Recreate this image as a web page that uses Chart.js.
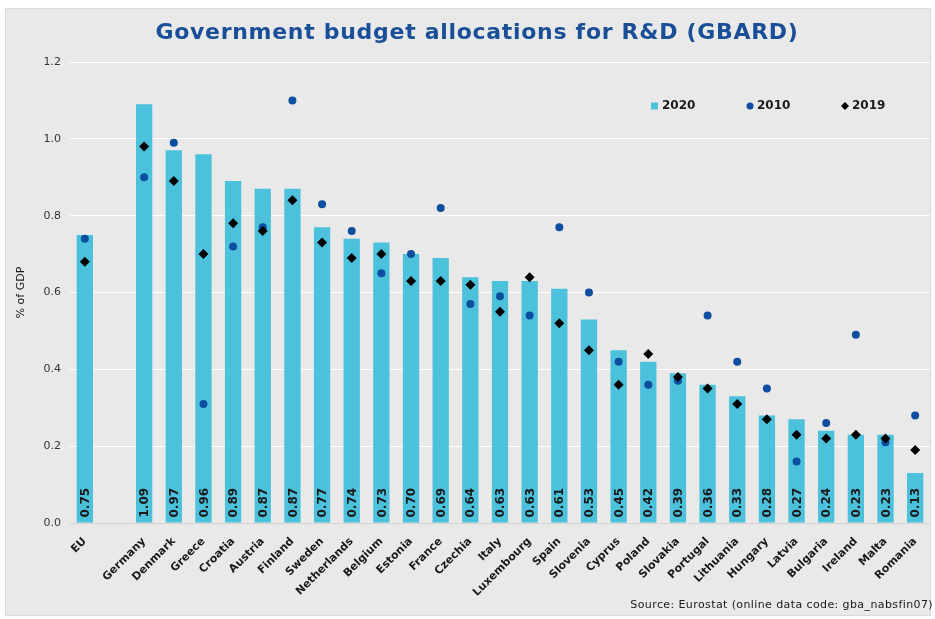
<!DOCTYPE html>
<html>
<head>
<meta charset="utf-8">
<title>GBARD</title>
<script src="https://cdn.jsdelivr.net/npm/chart.js@4.4.1/dist/chart.umd.min.js"></script>
<style>
  html, body { margin: 0; padding: 0; background: #ffffff; }
  #wrap { position: relative; width: 935px; height: 619px; }
  #panel { position: absolute; left: 5px; top: 8px; width: 926px; height: 608px;
           background: #e9e9e9; border: 1px solid #dadada; box-sizing: border-box; }
  #chart { position: absolute; left: 0; top: 0; }
</style>
</head>
<body>
<div id="wrap">
  <div id="panel"></div>
  <canvas id="chart" width="935" height="619"></canvas>
</div>
<script>
// categories (second slot is the gap after EU)
const countries = ["EU", "", "Germany", "Denmark", "Greece", "Croatia", "Austria", "Finland",
  "Sweden", "Netherlands", "Belgium", "Estonia", "France", "Czechia", "Italy", "Luxembourg",
  "Spain", "Slovenia", "Cyprus", "Poland", "Slovakia", "Portugal", "Lithuania", "Hungary",
  "Latvia", "Bulgaria", "Ireland", "Malta", "Romania"];

// % of GDP
const gbard2020 = [0.75, null, 1.09, 0.97, 0.96, 0.89, 0.87, 0.87, 0.77, 0.74, 0.73, 0.70, 0.69,
  0.64, 0.63, 0.63, 0.61, 0.53, 0.45, 0.42, 0.39, 0.36, 0.33, 0.28, 0.27, 0.24, 0.23, 0.23, 0.13];
const gbard2010 = [0.74, null, 0.90, 0.99, 0.31, 0.72, 0.77, 1.10, 0.83, 0.76, 0.65, 0.70, 0.82,
  0.57, 0.59, 0.54, 0.77, 0.60, 0.42, 0.36, 0.37, 0.54, 0.42, 0.35, 0.16, 0.26, 0.49, 0.21, 0.28];
const gbard2019 = [0.68, null, 0.98, 0.89, 0.70, 0.78, 0.76, 0.84, 0.73, 0.69, 0.70, 0.63, 0.63,
  0.62, 0.55, 0.64, 0.52, 0.45, 0.36, 0.44, 0.38, 0.35, 0.31, 0.27, 0.23, 0.22, 0.23, 0.22, 0.19];

const yTicks = [0, 0.2, 0.4, 0.6, 0.8, 1.0, 1.2];

const FONT = "'DejaVu Sans', Verdana, sans-serif";
const barColor = "#4bc1dc";
const dotColor = "#0c4e9f";
const diamondColor = "#000000";

// title, legend, value labels and source line
const decorations = {
  id: "decorations",
  afterDatasetsDraw(chart) {
    const ctx = chart.ctx;

    // values written inside the bars
    const meta = chart.getDatasetMeta(0);
    ctx.save();
    ctx.fillStyle = "#1a1a1a";
    ctx.font = "bold 12px " + FONT;
    ctx.textAlign = "left";
    ctx.textBaseline = "middle";
    meta.data.forEach((bar, i) => {
      const v = gbard2020[i];
      if (v === null) return;
      ctx.save();
      ctx.translate(bar.x + 1, bar.base - 5);
      ctx.rotate(-Math.PI / 2);
      ctx.fillText(v.toFixed(2), 0, 0);
      ctx.restore();
    });
    ctx.restore();
  },
  afterDraw(chart) {
    const ctx = chart.ctx;
    ctx.save();

    // title
    ctx.fillStyle = "#1a4f98";
    ctx.font = "bold 22px " + FONT;
    ctx.letterSpacing = "0.7px";
    ctx.textAlign = "center";
    ctx.textBaseline = "middle";
    ctx.fillText("Government budget allocations for R&D (GBARD)", 477, 33);
    ctx.letterSpacing = "0px";

    // legend
    const items = [
      { x: 651, ds: chart.data.datasets[0] },
      { x: 746, ds: chart.data.datasets[1] },
      { x: 841, ds: chart.data.datasets[2] }
    ];
    const ly = 106;
    ctx.font = "bold 12px " + FONT;
    ctx.textAlign = "left";
    items.forEach(it => {
      ctx.fillStyle = it.ds.backgroundColor;
      if (it.ds.type === "bar") {
        ctx.fillRect(it.x, ly - 3.5, 7, 7);
      } else if (it.ds.pointStyle === "circle") {
        ctx.beginPath();
        ctx.arc(it.x + 4, ly, 3.5, 0, Math.PI * 2);
        ctx.fill();
      } else {
        ctx.beginPath();
        ctx.moveTo(it.x + 4, ly - 4);
        ctx.lineTo(it.x + 8, ly);
        ctx.lineTo(it.x + 4, ly + 4);
        ctx.lineTo(it.x, ly);
        ctx.closePath();
        ctx.fill();
      }
      ctx.fillStyle = "#1a1a1a";
      ctx.fillText(it.ds.label, it.x + 11, ly);
    });

    // source
    ctx.fillStyle = "#1a1a1a";
    ctx.font = "11px " + FONT;
    ctx.letterSpacing = "0.4px";
    ctx.textAlign = "right";
    ctx.textBaseline = "alphabetic";
    ctx.fillText("Source: Eurostat (online data code: gba_nabsfin07)", 933, 608);
    ctx.restore();
  }
};

const ctx = document.getElementById("chart").getContext("2d");
new Chart(ctx, {
  data: {
    labels: countries,
    datasets: [
      {
        type: "bar",
        label: "2020",
        data: gbard2020,
        backgroundColor: barColor,
        barPercentage: 0.55,
        categoryPercentage: 1.0,
        order: 3
      },
      {
        type: "line",
        label: "2010",
        data: gbard2010,
        showLine: false,
        pointStyle: "circle",
        pointRadius: 4,
        backgroundColor: dotColor,
        borderColor: dotColor,
        borderWidth: 0,
        order: 2
      },
      {
        type: "line",
        label: "2019",
        data: gbard2019,
        showLine: false,
        pointStyle: "rectRot",
        pointRadius: 5,
        backgroundColor: diamondColor,
        borderColor: diamondColor,
        borderWidth: 0,
        order: 1
      }
    ]
  },
  options: {
    responsive: false,
    animation: false,
    layout: { padding: { left: 0, right: 4, top: 62, bottom: 0 } },
    plugins: {
      legend: { display: false },
      tooltip: { enabled: false },
      title: { display: false }
    },
    scales: {
      x: {
        offset: true,
        grid: { display: false },
        border: { display: false },
        ticks: {
          autoSkip: false,
          minRotation: 45,
          maxRotation: 45,
          padding: 4,
          color: "#1a1a1a",
          font: { family: FONT, size: 11, weight: "bold" }
        },
        afterFit(scale) { scale.height = 96; }
      },
      y: {
        min: 0,
        max: 1.2,
        afterBuildTicks(scale) { scale.ticks = yTicks.map(v => ({ value: v })); },
        grid: {
          drawTicks: false,
          color: c => (c.tick && c.tick.value === 0 ? "#d2d2d2" : "#ffffff"),
          lineWidth: 1
        },
        border: { display: false },
        ticks: {
          padding: 9,
          color: "#333333",
          font: { family: FONT, size: 11 },
          callback: v => v.toFixed(1)
        },
        title: {
          display: true,
          text: "% of GDP",
          color: "#1a1a1a",
          font: { family: FONT, size: 11 },
          padding: { top: 15, bottom: 0 }
        },
        afterFit(scale) { scale.width = 70; }
      }
    }
  },
  plugins: [decorations]
});
</script>
</body>
</html>
